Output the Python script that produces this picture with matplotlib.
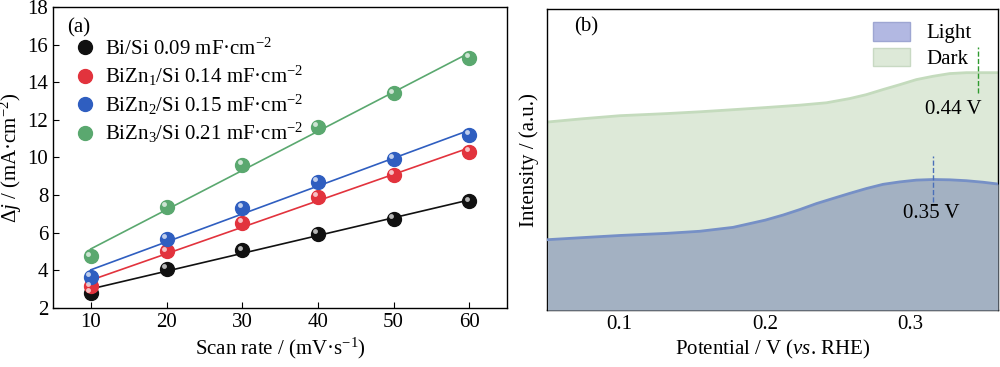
import matplotlib
matplotlib.use("Agg")
import matplotlib.pyplot as plt
import matplotlib.transforms as mtransforms
from matplotlib.patches import Patch
from matplotlib.lines import Line2D
import numpy as np

plt.rcParams['font.family'] = ['Liberation Serif', 'DejaVu Serif']
plt.rcParams['mathtext.fontset'] = 'custom'
plt.rcParams['mathtext.rm'] = 'Liberation Serif'
plt.rcParams['mathtext.it'] = 'Liberation Serif:italic'
plt.rcParams['font.size'] = 15

# panel (a): scan rate vs current density difference
scan_rate = [10, 20, 30, 40, 50, 60]
dj_bi = [2.80, 4.07, 5.06, 5.93, 6.72, 7.66]
dj_zn1 = [3.15, 5.01, 6.54, 7.89, 9.07, 10.29]
dj_zn2 = [3.64, 5.66, 7.30, 8.70, 9.92, 11.19]
dj_zn3 = [4.74, 7.39, 9.60, 11.64, 13.40, 15.31]
labels_a = ['Bi/Si 0.09 mF·cm$^{-2}$',
            'BiZn$_1$/Si 0.14 mF·cm$^{-2}$',
            'BiZn$_2$/Si 0.15 mF·cm$^{-2}$',
            'BiZn$_3$/Si 0.21 mF·cm$^{-2}$']
colors_a = ['#111111', '#e2333d', '#2f5ec0', '#5aa86f']

# panel (b): intensity curves
pot_dark = [0.0503, 0.0748, 0.1, 0.1321, 0.155, 0.1779, 0.2, 0.2237, 0.2421,
            0.2581, 0.2695, 0.281, 0.2924, 0.3039, 0.3153, 0.3268, 0.3383, 0.36]
int_dark = [62.5, 63.6, 64.6, 65.3, 65.9, 66.6, 67.3, 68.1, 68.9,
            70.3, 71.6, 73.3, 74.9, 76.6, 77.7, 78.6, 78.9, 78.9]
pot_light = [0.0503, 0.0748, 0.1, 0.1321, 0.155, 0.1779, 0.2, 0.2123, 0.2237, 0.2352,
             0.2466, 0.2581, 0.2695, 0.281, 0.2924, 0.3039, 0.3153, 0.3268, 0.3383,
             0.3497, 0.36]
int_light = [23.4, 24.1, 24.8, 25.5, 26.2, 27.5, 29.9, 31.6, 33.4, 35.4,
             37.1, 38.8, 40.4, 41.8, 42.6, 43.2, 43.4, 43.3, 43.0,
             42.5, 41.9]

fig = plt.figure(figsize=(10, 3.67), dpi=100)
ax1 = fig.add_axes([0.053, 0.161, 0.454, 0.820])
ax2 = fig.add_axes([0.547, 0.155, 0.451, 0.820])

# sphere-like markers: base disc plus a small highlight
hl = mtransforms.offset_copy(ax1.transData, fig=fig, x=-1.8, y=2.0, units='points')
handles = []
for ys, c, lab in zip([dj_bi, dj_zn1, dj_zn2, dj_zn3], colors_a, labels_a):
    k, b = np.polyfit(scan_rate, ys, 1)
    xs = np.array(scan_rate)
    ax1.plot(xs, k * xs + b, color=c, lw=1.2, zorder=2)
    ax1.plot(scan_rate, ys, 'o', ms=10, color=c, mec=c, zorder=3)
    ax1.plot(scan_rate, ys, 'o', ms=3.5, color='white', alpha=0.7, mew=0,
             transform=hl, zorder=4)
    handles.append(Line2D([], [], marker='o', ls='', ms=10, color=c))

ax1.set_xlim(5, 65)
ax1.set_ylim(2, 18)
ax1.set_xticks(scan_rate)
ax1.set_yticks(range(2, 19, 2))
ax1.tick_params(direction='in', labelsize=15, length=4)
ax1.set_xlabel('Scan rate / (mV·s$^{-1}$)', fontsize=15, labelpad=3)
ax1.set_ylabel(r'$\Delta\it{j}$ / (mA·cm$^{-2}$)', fontsize=15, labelpad=2)
ax1.text(0.032, 0.915, '(a)', transform=ax1.transAxes, fontsize=15)
ax1.legend(handles, labels_a, loc='upper left', bbox_to_anchor=(0.048, 0.895),
           frameon=False, fontsize=15, handlelength=1.0, handletextpad=0.45,
           labelspacing=0.21, borderaxespad=0, borderpad=0)

# panel (b)
ax2.fill_between(pot_dark, 0, int_dark, color='#dde9d8', lw=0, zorder=1)
ax2.plot(pot_dark, int_dark, color='#c4dbbd', lw=2, zorder=2)
ax2.fill_between(pot_light, 0, int_light, color='#a3b1c2', lw=0, zorder=3)
ax2.plot(pot_light, int_light, color='#7690c6', lw=2, zorder=4)

ax2.plot([0.346, 0.346], [72.1, 87.4], ls='--', color='#2e9a2e', lw=1, zorder=5)
ax2.text(0.329, 66.8, '0.44 V', ha='center', va='center', fontsize=15, zorder=6)
ax2.plot([0.315, 0.315], [35.9, 51.2], ls='--', color='#4a6fb8', lw=1, zorder=5)
ax2.text(0.314, 32.2, '0.35 V', ha='center', va='center', fontsize=15, zorder=6)

ax2.set_xlim(0.05, 0.36)
ax2.set_ylim(0, 100)
ax2.set_xticks([0.1, 0.2, 0.3])
ax2.set_xticks([0.15, 0.25, 0.35], minor=True)
ax2.set_yticks([])
ax2.tick_params(direction='in', labelsize=15, length=5)
ax2.tick_params(which='minor', direction='in', length=3)
ax2.set_xlabel('Potential / V ($\\it{vs}$. RHE)', fontsize=15, labelpad=3)
ax2.set_ylabel('Intensity / (a.u.)', fontsize=15, labelpad=6)
ax2.text(0.06, 0.925, '(b)', transform=ax2.transAxes, fontsize=15)
leg_b = [Patch(facecolor='#b2b8e2', edgecolor='#9ea6d2', label='Light'),
         Patch(facecolor='#dde9d8', edgecolor='#c8d9c3', label='Dark')]
ax2.legend(handles=leg_b, loc='upper left', bbox_to_anchor=(0.705, 0.985),
           frameon=False, fontsize=15, handlelength=1.75, handleheight=1.0,
           handletextpad=0.8, labelspacing=0.2, borderaxespad=0)

for ax in (ax1, ax2):
    for s in ax.spines.values():
        s.set_linewidth(1.0)

fig.savefig('out.png', dpi=100)
